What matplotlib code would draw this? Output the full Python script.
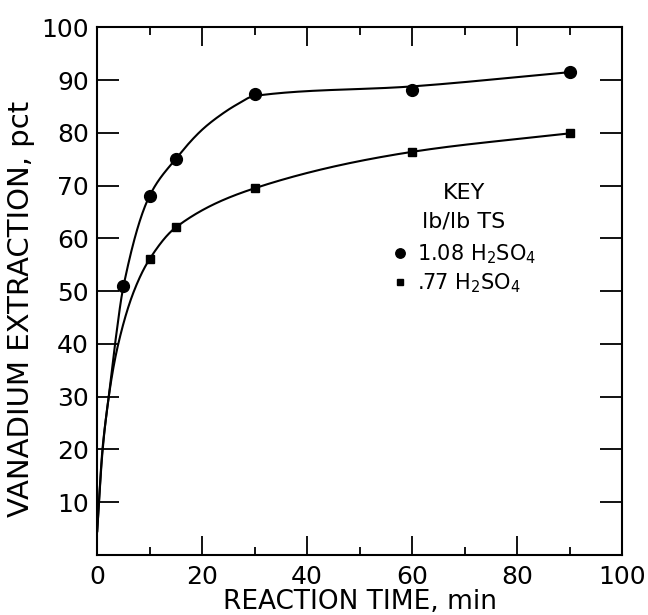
import numpy as np
import matplotlib
matplotlib.use("Agg")
import matplotlib.pyplot as plt
from matplotlib.ticker import MultipleLocator

# measured points
t_hi = [5, 10, 15, 30, 60, 90]
v_hi = [50.9, 68.1, 75.1, 87.3, 88.2, 91.5]
t_lo = [10, 15, 30, 60, 90]
v_lo = [56.1, 62.1, 69.5, 76.4, 79.9]

# hand-drawn fit curves
curve_hi_t = [0.0, 1.0, 2.2, 3.4, 5, 10, 15, 20, 23.4, 26.5, 30, 60, 90]
curve_hi_v = [4.5, 20.0, 30.0, 40.0, 50.9, 68.1, 75.1, 80.6, 83.3, 85.3, 87.0, 88.8, 91.5]
curve_lo_t = [0.0, 1.0, 2.2, 3.9, 7.0, 10, 15, 30, 60, 90]
curve_lo_v = [4.5, 19.5, 30.0, 39.5, 50.0, 56.1, 62.1, 69.5, 76.4, 79.9]

leg_title = "KEY\nlb/lb TS"
leg_labels = ["1.08 H$_2$SO$_4$", ".77 H$_2$SO$_4$"]


def pchip(x, y, xs):
    x = np.asarray(x, float)
    y = np.asarray(y, float)
    h = np.diff(x)
    d = np.diff(y) / h
    m = np.zeros_like(y)
    for k in range(1, len(x) - 1):
        if d[k - 1] * d[k] > 0:
            w1 = 2 * h[k] + h[k - 1]
            w2 = h[k] + 2 * h[k - 1]
            m[k] = (w1 + w2) / (w1 / d[k - 1] + w2 / d[k])
    m[0] = d[0]
    m[-1] = d[-1]
    i = np.clip(np.searchsorted(x, xs) - 1, 0, len(h) - 1)
    s = (xs - x[i]) / h[i]
    h00 = 2 * s**3 - 3 * s**2 + 1
    h10 = s**3 - 2 * s**2 + s
    h01 = -2 * s**3 + 3 * s**2
    h11 = s**3 - s**2
    return h00 * y[i] + h10 * h[i] * m[i] + h01 * y[i + 1] + h11 * h[i] * m[i + 1]


plt.rcParams['font.family'] = ['DejaVu Sans']
fig = plt.figure(figsize=(6.48, 6.15), dpi=100)
ax = fig.add_axes([0.150, 0.0976, 0.810, 0.858])

xs = np.linspace(0, 90, 900)
ax.plot(xs, pchip(curve_hi_t, curve_hi_v, xs), color='black', lw=1.5)
ax.plot(xs, pchip(curve_lo_t, curve_lo_v, xs), color='black', lw=1.5)
h1, = ax.plot(t_hi, v_hi, 'o', color='black', ms=8.5, ls='none')
h2, = ax.plot(t_lo, v_lo, 's', color='black', ms=5.8, ls='none')

ax.set_xlim(0, 100)
ax.set_ylim(0, 100)
ax.xaxis.set_major_locator(MultipleLocator(20))
ax.xaxis.set_minor_locator(MultipleLocator(10))
ax.set_yticks(range(10, 101, 10))
ax.tick_params(which='both', direction='in', top=True, right=True, width=1.3,
               labelsize=18, colors='black')
ax.tick_params(which='major', axis='x', length=14, pad=7)
ax.tick_params(which='minor', axis='x', length=6)
ax.tick_params(which='major', axis='y', length=16, pad=6)
for sp in ax.spines.values():
    sp.set_linewidth(1.5)

ax.set_xlabel("REACTION TIME, min", fontsize=19, labelpad=0)
ax.set_ylabel("VANADIUM EXTRACTION, pct", fontsize=21)
ax.yaxis.set_label_coords(-0.118, 0.466)

leg = ax.legend([h1, h2], leg_labels, title=leg_title, loc='upper left',
                bbox_to_anchor=(0.545, 0.72), frameon=False, fontsize=15,
                title_fontsize=16, handlelength=0.8, handletextpad=0.4,
                labelspacing=0.25, markerscale=0.8, borderaxespad=0)
leg.get_title().set_multialignment('center')
leg.get_title().set_linespacing(1.5)
leg._legend_box.sep = 8

fig.savefig("out.png", dpi=100)
